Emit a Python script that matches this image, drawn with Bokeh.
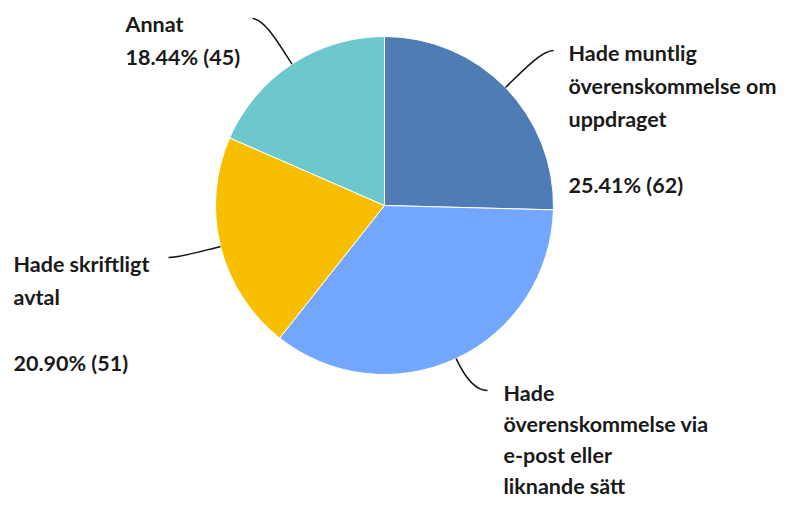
import math
from bokeh.plotting import figure
from bokeh.models import Range1d
from bokeh.core.properties import value
from bokeh.embed import file_html
from bokeh.resources import INLINE

# ---- data ----
categories = [
    "Hade muntlig\növerenskommelse om\nuppdraget",
    "Hade\növerenskommelse via\ne-post eller\nliknande sätt",
    "Hade skriftligt\navtal",
    "Annat",
]
counts = [62, 86, 51, 45]
colors = ["#507cb6", "#73a6ff", "#f8bf00", "#6cc8cc"]

# ---- layout (picture pixel coords) ----
W, H = 786, 504
cx, cy, R = 384, 205, 169
label_x = [568, 503, 13, 125]
label_y0 = [52, 392, 263, 23]
line_h = [33, 31, 33, 33]
blank_gap = [True, True, True, False]
leader_end = [(553, 50), (487, 390), (168, 257), (252, 18)]
FONT = "Lato"
FSIZE = "21.5px"


def Y(py):
    return H - py


p = figure(width=W, height=H, output_backend="svg", toolbar_location=None,
           x_range=Range1d(0, W), y_range=Range1d(0, H),
           min_border=0, outline_line_color=None)
p.axis.visible = False
p.grid.visible = False
p.background_fill_color = "white"
p.border_fill_color = "white"

total = sum(counts)
start = math.pi / 2
for i, c in enumerate(counts):
    sweep = c / total * 2 * math.pi
    end = start - sweep
    p.wedge(x=cx, y=Y(cy), radius=R, start_angle=start, end_angle=end,
            direction="clock", fill_color=colors[i], line_color="white",
            line_width=1)
    mid = start - sweep / 2
    sx = cx + R * math.cos(mid)
    sy = cy - R * math.sin(mid)
    ex, ey = leader_end[i]
    dx, dy = math.cos(mid), -math.sin(mid)
    c0x, c0y = sx + dx * 22, sy + dy * 22
    sign = 1 if ex < sx else -1
    c1x, c1y = ex + sign * 12, ey
    p.bezier(x0=[sx], y0=[Y(sy)], x1=[ex], y1=[Y(ey)],
             cx0=[c0x], cy0=[Y(c0y)], cx1=[c1x], cy1=[Y(c1y)],
             line_color="#111111", line_width=1.5)

    pct = f"{c / total * 100:.2f}% ({c})"
    lines = categories[i].split("\n")
    if blank_gap[i]:
        lines = lines + ["", pct]
    else:
        lines = lines + [pct]
    for j, t in enumerate(lines):
        yy = label_y0[i] + j * line_h[i]
        if not t or yy > H - 8:
            continue
        p.text(x=[label_x[i]], y=[Y(yy)], text=[t], text_font=value(FONT),
               text_font_size=FSIZE, text_font_style="bold",
               text_color="#1a1a1a", text_baseline="middle", text_align="left")
    start = end

open("out.html", "w").write(file_html(p, INLINE))
